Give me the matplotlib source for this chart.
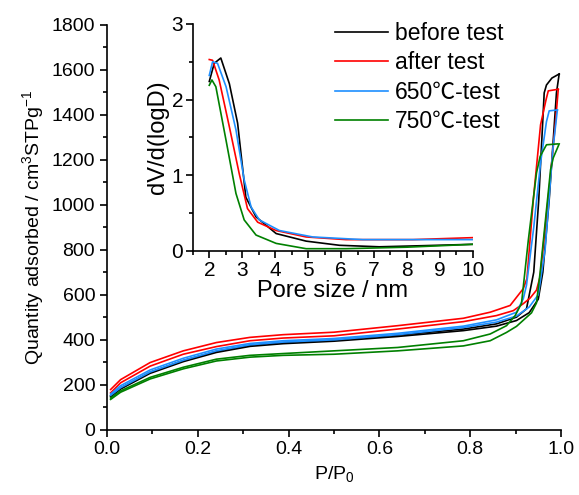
import matplotlib
matplotlib.use('Agg')
import matplotlib.pyplot as plt
from matplotlib.ticker import MultipleLocator

plt.rcParams['font.family'] = ['Liberation Sans', 'Noto Sans CJK SC', 'DejaVu Sans']
plt.rcParams['mathtext.default'] = 'regular'

labels = ['before test', 'after test', '650℃-test', '750℃-test']
colors = ['#000000', '#ff0000', '#1e8fff', '#008000']

# isotherms: adsorption branch and desorption branch (P/P0, quantity)
ads_p = [
    [0.008, 0.03, 0.095, 0.168, 0.241, 0.315, 0.388, 0.5, 0.64, 0.785, 0.858, 0.902, 0.93, 0.95, 0.96, 0.974, 0.99, 0.996],
    [0.008, 0.03, 0.095, 0.168, 0.241, 0.315, 0.388, 0.5, 0.64, 0.785, 0.858, 0.895, 0.917, 0.932, 0.946, 0.954, 0.976, 0.987, 0.994],
    [0.008, 0.03, 0.095, 0.168, 0.241, 0.315, 0.388, 0.5, 0.64, 0.785, 0.858, 0.902, 0.93, 0.95, 0.965, 0.982, 0.992],
    [0.008, 0.03, 0.095, 0.168, 0.241, 0.315, 0.388, 0.5, 0.64, 0.785, 0.844, 0.88, 0.902, 0.935, 0.946, 0.954, 0.977, 0.983, 0.996],
]
ads_q = [
    [146, 180, 250, 302, 343, 370, 382, 393, 414, 440, 460, 485, 520, 580, 700, 1022, 1498, 1582],
    [163, 208, 282, 335, 369, 395, 407, 417, 447, 480, 507, 529, 560, 585, 620, 680, 1111, 1348, 1514],
    [152, 186, 256, 308, 350, 377, 389, 399, 422, 454, 478, 505, 545, 600, 800, 1244, 1422],
    [134, 166, 225, 270, 305, 322, 330, 335, 350, 372, 395, 432, 459, 519, 563, 698, 1156, 1209, 1271],
]
des_p = [
    [0.008, 0.03, 0.095, 0.168, 0.241, 0.315, 0.388, 0.5, 0.64, 0.785, 0.858, 0.902, 0.924, 0.94, 0.951, 0.963, 0.968, 0.98, 0.996],
    [0.008, 0.03, 0.095, 0.168, 0.241, 0.315, 0.388, 0.5, 0.64, 0.785, 0.844, 0.888, 0.917, 0.925, 0.939, 0.955, 0.967, 0.972, 0.994],
    [0.008, 0.03, 0.095, 0.168, 0.241, 0.315, 0.388, 0.5, 0.64, 0.785, 0.858, 0.902, 0.917, 0.924, 0.94, 0.955, 0.968, 0.974, 0.992],
    [0.008, 0.03, 0.095, 0.168, 0.241, 0.315, 0.388, 0.5, 0.64, 0.785, 0.844, 0.88, 0.899, 0.913, 0.928, 0.946, 0.954, 0.968, 0.993],
]
des_q = [
    [150, 185, 255, 307, 348, 375, 387, 398, 420, 447, 470, 500, 537, 700, 1022, 1498, 1533, 1564, 1582],
    [178, 222, 298, 350, 387, 410, 422, 433, 462, 495, 522, 552, 627, 672, 1022, 1356, 1467, 1507, 1514],
    [158, 195, 265, 317, 358, 383, 395, 405, 428, 460, 488, 522, 582, 642, 900, 1187, 1370, 1418, 1422],
    [140, 172, 232, 277, 313, 330, 338, 350, 365, 395, 425, 462, 507, 561, 842, 1141, 1215, 1267, 1271],
]

# pore size distribution (inset)
psd_d = [
    [2.0, 2.15, 2.35, 2.61, 2.86, 3.11, 3.42, 4.03, 4.94, 5.95, 7.16, 8.5, 10.0],
    [2.0, 2.1, 2.3, 2.61, 2.91, 3.16, 3.47, 4.03, 4.94, 6.15, 8.18, 10.0],
    [2.0, 2.1, 2.25, 2.51, 2.81, 3.06, 3.27, 3.52, 4.13, 5.14, 6.66, 10.0],
    [2.0, 2.08, 2.2, 2.51, 2.81, 3.06, 3.42, 4.03, 4.94, 6.15, 8.0, 10.0],
]
psd_v = [
    [2.24, 2.48, 2.55, 2.21, 1.69, 0.71, 0.45, 0.23, 0.13, 0.075, 0.055, 0.07, 0.088],
    [2.53, 2.52, 2.26, 1.64, 1.02, 0.56, 0.38, 0.27, 0.185, 0.15, 0.15, 0.176],
    [2.32, 2.5, 2.48, 2.17, 1.6, 0.94, 0.58, 0.41, 0.27, 0.185, 0.15, 0.15],
    [2.19, 2.26, 2.17, 1.46, 0.76, 0.41, 0.21, 0.1, 0.03, 0.03, 0.05, 0.088],
]

fig = plt.figure(figsize=(5.79, 4.95), dpi=100)
ax = fig.add_axes([0.1848, 0.1323, 0.7841, 0.8172])
for i in range(4):
    ax.plot(ads_p[i], ads_q[i], color=colors[i], lw=1.2)
    ax.plot(des_p[i], des_q[i], color=colors[i], lw=1.2)
ax.set_xlim(0, 1)
ax.set_ylim(0, 1800)
ax.xaxis.set_major_locator(MultipleLocator(0.2))
ax.xaxis.set_minor_locator(MultipleLocator(0.1))
ax.yaxis.set_major_locator(MultipleLocator(200))
ax.yaxis.set_minor_locator(MultipleLocator(100))
ax.spines['top'].set_visible(False)
ax.spines['right'].set_visible(False)
ax.tick_params(which='major', direction='out', length=5, width=1.2, labelsize=14)
ax.tick_params(which='minor', direction='out', length=3, width=1.2)
ax.xaxis.set_major_formatter(matplotlib.ticker.FormatStrFormatter('%.1f'))
ax.set_xlabel('P/P$_0$', fontsize=14)
ax.set_ylabel('Quantity adsorbed / cm$^3$STPg$^{-1}$', fontsize=14, labelpad=4)
for s in ['left', 'bottom']:
    ax.spines[s].set_linewidth(1.2)

ins = fig.add_axes([0.333, 0.493, 0.4836, 0.4586])
ins.patch.set_alpha(0)
for i in range(4):
    ins.plot(psd_d[i], psd_v[i], color=colors[i], lw=1.2, label=labels[i])
ins.set_xlim(1.5, 10)
ins.set_ylim(0, 3)
ins.xaxis.set_major_locator(MultipleLocator(1))
ins.xaxis.set_minor_locator(MultipleLocator(0.5))
ins.yaxis.set_major_locator(MultipleLocator(1))
ins.yaxis.set_minor_locator(MultipleLocator(0.5))
ins.spines['top'].set_visible(False)
ins.spines['right'].set_visible(False)
for s in ['left', 'bottom']:
    ins.spines[s].set_linewidth(1.2)
ins.tick_params(which='major', direction='out', length=5, width=1.2, labelsize=15, pad=2)
ins.tick_params(which='minor', direction='out', length=3, width=1.2)
ins.set_xlabel('Pore size / nm', fontsize=17, labelpad=0)
ins.set_ylabel('dV/d(logD)', fontsize=17, labelpad=2)

fig.legend(loc='upper left', bbox_to_anchor=(335 / 579, 1 - 22 / 495), frameon=False,
           fontsize=16.5, handlelength=2.3, handletextpad=0.3, labelspacing=0.28,
           borderpad=0, borderaxespad=0)

fig.savefig('out.png', dpi=100)
